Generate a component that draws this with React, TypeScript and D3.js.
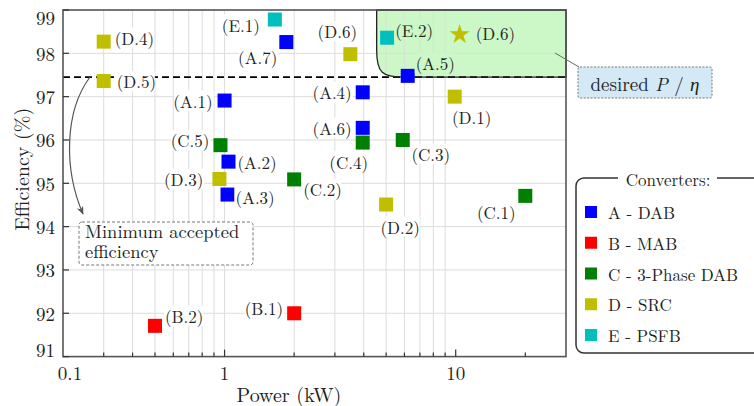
import React from 'react';
import * as d3 from 'd3';

// converter families
const groupNames = ['A - DAB', 'B - MAB', 'C - 3-Phase DAB', 'D - SRC', 'E - PSFB'];
const groupColors = ['#0000ff', '#ff0000', '#008000', '#bfbf00', '#00bfbf'];

// data points (power in kW, efficiency in %)
const pointLabels = ['A.1', 'A.2', 'A.3', 'A.4', 'A.5', 'A.6', 'A.7',
  'B.1', 'B.2',
  'C.1', 'C.2', 'C.3', 'C.4', 'C.5',
  'D.1', 'D.2', 'D.3', 'D.4', 'D.5', 'D.6',
  'E.1', 'E.2'];
const pointGroups = [0, 0, 0, 0, 0, 0, 0, 1, 1, 2, 2, 2, 2, 2, 3, 3, 3, 3, 3, 3, 4, 4];
const pointPower = [1.0, 1.04, 1.03, 3.96, 6.2, 3.96, 1.85,
  2.0, 0.5,
  20, 2.0, 5.9, 3.96, 0.96,
  9.9, 5.0, 0.95, 0.3, 0.3, 3.5,
  1.65, 5.05];
const pointEff = [96.91, 95.5, 94.74, 97.1, 97.48, 96.28, 98.26,
  92.0, 91.71,
  94.71, 95.09, 96.0, 95.94, 95.88,
  97.0, 94.51, 95.1, 98.27, 97.36, 97.98,
  98.78, 98.36];

// proposed design (star)
const starLabel = 'D.6';
const starPower = 10.4;
const starEff = 98.46;

const minEfficiency = 97.45;
const desiredMinPower = 4.55;

const xDomain = [0.2, 30];
const yDomain = [91, 99];
const yTicks = [91, 92, 93, 94, 95, 96, 97, 98, 99];
const xMajorTicks = [1, 10];
const xMinorTicks = [0.3, 0.4, 0.5, 0.6, 0.7, 0.8, 0.9, 2, 3, 4, 5, 6, 7, 8, 9, 20];
const xGridValues = [0.3, 0.4, 0.5, 0.6, 0.7, 0.8, 0.9, 1, 2, 3, 4, 5, 6, 7, 8, 9];

// label placement: [dx, dy, anchor]
const labelPlace: Record<string, [number, number, string]> = {
  'E.1': [-15, 5, 'end'], 'A.7': [-9, 15, 'end'], 'D.4': [11, -4, 'start'],
  'D.5': [13, 0, 'start'], 'D.6': [-13, -23, 'middle'], 'A.1': [-12, 0, 'end'],
  'A.4': [-11, 0, 'end'], 'A.6': [-11, 0, 'end'], 'C.4': [-14, 19, 'middle'],
  'C.5': [-11, -5, 'end'], 'A.2': [9, 0, 'start'], 'D.3': [-16, 0, 'end'],
  'A.3': [8, 2, 'start'], 'C.2': [9, 10, 'start'], 'B.1': [-11, -5, 'end'],
  'B.2': [10, -10, 'start'], 'E.2': [8, -8, 'start'], 'A.5': [8, -13, 'start'],
  'D.1': [17, 20, 'middle'], 'C.3': [28, 14, 'middle'], 'D.2': [14, 22, 'middle'],
  'C.1': [-29, 16, 'middle'],
};

const FONT = 'Latin Modern Roman, Liberation Serif, serif';
const INK = '#222';
const REGION = '#ccf7c6';

function PointLabel({ x, y, anchor, text, bg }: { x: number; y: number; anchor: string; text: string; bg: string }) {
  const fs = 17;
  const w = 2.3 * fs;
  const bx = anchor === 'start' ? x - 1 : anchor === 'end' ? x - w + 1 : x - w / 2;
  return (
    <g>
      <rect x={bx} y={y - fs * 0.6} width={w} height={fs * 1.2} fill={bg} />
      <text x={x} y={y} textAnchor={anchor} dominantBaseline="central" fontSize={fs} fontFamily={FONT} fill={INK}>{text}</text>
    </g>
  );
}

export default function App() {
  const width = 754;
  const height = 406;
  const left = 63, right = 566, top = 10, bottom = 356.6;

  const x = d3.scaleLog().domain(xDomain).range([left, right]);
  const y = d3.scaleLinear().domain(yDomain).range([bottom, top]);

  const yb = y(minEfficiency);
  const gx0 = x(desiredMinPower);
  const r = 27;
  const regionPath = `M${gx0},${top} L${gx0},${yb - r} C${gx0},${yb - 4} ${gx0 + 6},${yb} ${gx0 + r},${yb} L${right},${yb} L${right},${top} Z`;
  const inRegion = (px: number, py: number) => px > gx0 && py < yb;

  const star = d3.symbol().type(d3.symbolStar).size(124)();
  const sq = 14;
  const sx = x(starPower), sy = y(starEff);

  return (
    <svg width={width} height={height} fontFamily={FONT} style={{ position: 'absolute', left: 0, top: 0 }}>
      <defs>
        <marker id="arr" viewBox="0 0 10 10" refX="9" refY="5" markerWidth="7" markerHeight="7" orient="auto-start-reverse">
          <path d="M0,1 L10,5 L0,9 L3,5 Z" fill="#555" />
        </marker>
      </defs>
      <rect width={width} height={height} fill="#fff" />

      {/* grid */}
      {xGridValues.map(v => (
        <line key={'gx' + v} x1={x(v)} x2={x(v)} y1={top} y2={bottom} stroke="#dcdcdc" strokeWidth={1} />
      ))}
      {yTicks.slice(1, -1).map(v => (
        <line key={'gy' + v} x1={left} x2={right} y1={y(v)} y2={y(v)} stroke="#dcdcdc" strokeWidth={1} />
      ))}

      {/* desired region */}
      <path d={regionPath} fill={REGION} stroke="none" />
      {xGridValues.filter(v => x(v) > gx0).map(v => (
        <line key={'gz' + v} x1={x(v)} x2={x(v)} y1={top} y2={yb} stroke="#dcdcdc" strokeOpacity={0.9} strokeWidth={1} />
      ))}
      {[98].map(v => (
        <line key={'gzy' + v} x1={gx0} x2={right} y1={y(v)} y2={y(v)} stroke="#dcdcdc" strokeWidth={1} />
      ))}
      <line x1={left} x2={right} y1={yb} y2={yb} stroke="#000" strokeWidth={1.6} strokeDasharray="7,4" />
      <path d={regionPath} fill="none" stroke="#222" strokeWidth={1.3} />

      {/* frame */}
      <rect x={left} y={top} width={right - left} height={bottom - top} fill="none" stroke="#555" strokeWidth={1.6} />

      {/* ticks */}
      {yTicks.map(v => (
        <g key={'yt' + v}>
          <line x1={left} x2={left + 6} y1={y(v)} y2={y(v)} stroke="#333" strokeWidth={1.2} />
          <text x={55} y={Math.min(Math.max(y(v), top + 7), bottom - 7)} textAnchor="end" dominantBaseline="central" fontSize={19} fontFamily={FONT} fill={INK}>{v}</text>
        </g>
      ))}
      {xMinorTicks.map(v => (
        <line key={'xm' + v} x1={x(v)} x2={x(v)} y1={bottom} y2={bottom - 4} stroke="#333" strokeWidth={1.2} />
      ))}
      {xMajorTicks.map(v => (
        <g key={'xt' + v}>
          <line x1={x(v)} x2={x(v)} y1={bottom} y2={bottom - 7} stroke="#333" strokeWidth={1.2} />
          <text x={x(v)} y={372} textAnchor="middle" dominantBaseline="central" fontSize={19} fontFamily={FONT} fill={INK}>{v}</text>
        </g>
      ))}
      <text x={left + 7} y={372} textAnchor="middle" dominantBaseline="central" fontSize={19} fontFamily={FONT} fill={INK}>0.1</text>

      {/* axis titles */}
      <text x={289} y={393} textAnchor="middle" dominantBaseline="central" fontSize={20} fontFamily={FONT} fill={INK}>Power (kW)</text>
      <text transform={`translate(20,${(top + bottom) / 2 - 14}) rotate(-90)`} textAnchor="middle" dominantBaseline="central" fontSize={20} fontFamily={FONT} fill={INK}>Efficiency (%)</text>

      {/* points */}
      {pointLabels.map((lab, i) => {
        const px = x(pointPower[i]);
        const py = y(pointEff[i]);
        return (
          <rect key={'m' + lab} x={px - sq / 2} y={py - sq / 2} width={sq} height={sq} fill={groupColors[pointGroups[i]]} />
        );
      })}
      {pointLabels.map((lab, i) => {
        const px = x(pointPower[i]);
        const py = y(pointEff[i]);
        const [dx, dy, anchor] = labelPlace[lab];
        return (
          <PointLabel key={'l' + lab} x={px + dx} y={py + dy} anchor={anchor} text={`(${lab})`}
            bg={inRegion(px + dx, py + dy) ? REGION : '#fff'} />
        );
      })}
      <path d={star} transform={`translate(${sx},${sy + 1})`} fill={groupColors[3]} />
      <PointLabel x={sx + 16} y={sy} anchor="start" text={`(${starLabel})`} bg={REGION} />

      {/* desired P / eta callout */}
      <line x1={555} y1={53} x2={579} y2={67} stroke="#666" strokeWidth={1} />
      <rect x={578} y={67} width={134} height={31} rx={2} fill="#d3e9f6" stroke="#777" strokeWidth={1} strokeDasharray="2,1.5" />
      <text x={645} y={83} textAnchor="middle" dominantBaseline="central" fontSize={19} fontFamily={FONT} fill={INK}>
        desired <tspan fontStyle="italic">P</tspan> / <tspan fontStyle="italic">η</tspan>
      </text>

      {/* minimum efficiency callout */}
      <path d={`M90,77 C64,112 64,170 83,214`} fill="none" stroke="#555" strokeWidth={1.2} markerEnd="url(#arr)" />
      <rect x={79} y={222} width={174} height={43} rx={3} fill="#fff" stroke="#777" strokeWidth={1} strokeDasharray="3,2" />
      <text fontSize={18.5} fontFamily={FONT} fill={INK}>
        <tspan x={85} y={238}>Minimum accepted</tspan>
        <tspan x={85} y={258}>efficiency</tspan>
      </text>

      {/* legend */}
      <rect x={576} y={178} width={210} height={175} rx={8} fill="#fff" stroke="#333" strokeWidth={1.5} />
      <rect x={618} y={172} width={99} height={12} fill="#fff" />
      <text x={668} y={179} textAnchor="middle" dominantBaseline="central" fontSize={17} fontFamily={FONT} fill={INK}>Converters:</text>
      {groupNames.map((name, i) => {
        const ly = 212 + i * 30.75;
        return (
          <g key={name}>
            <rect x={585} y={ly - 6} width={12} height={12} fill={groupColors[i]} />
            <text x={608} y={ly} dominantBaseline="central" fontSize={17} fontFamily={FONT} fill={INK}>{name}</text>
          </g>
        );
      })}
    </svg>
  );
}
